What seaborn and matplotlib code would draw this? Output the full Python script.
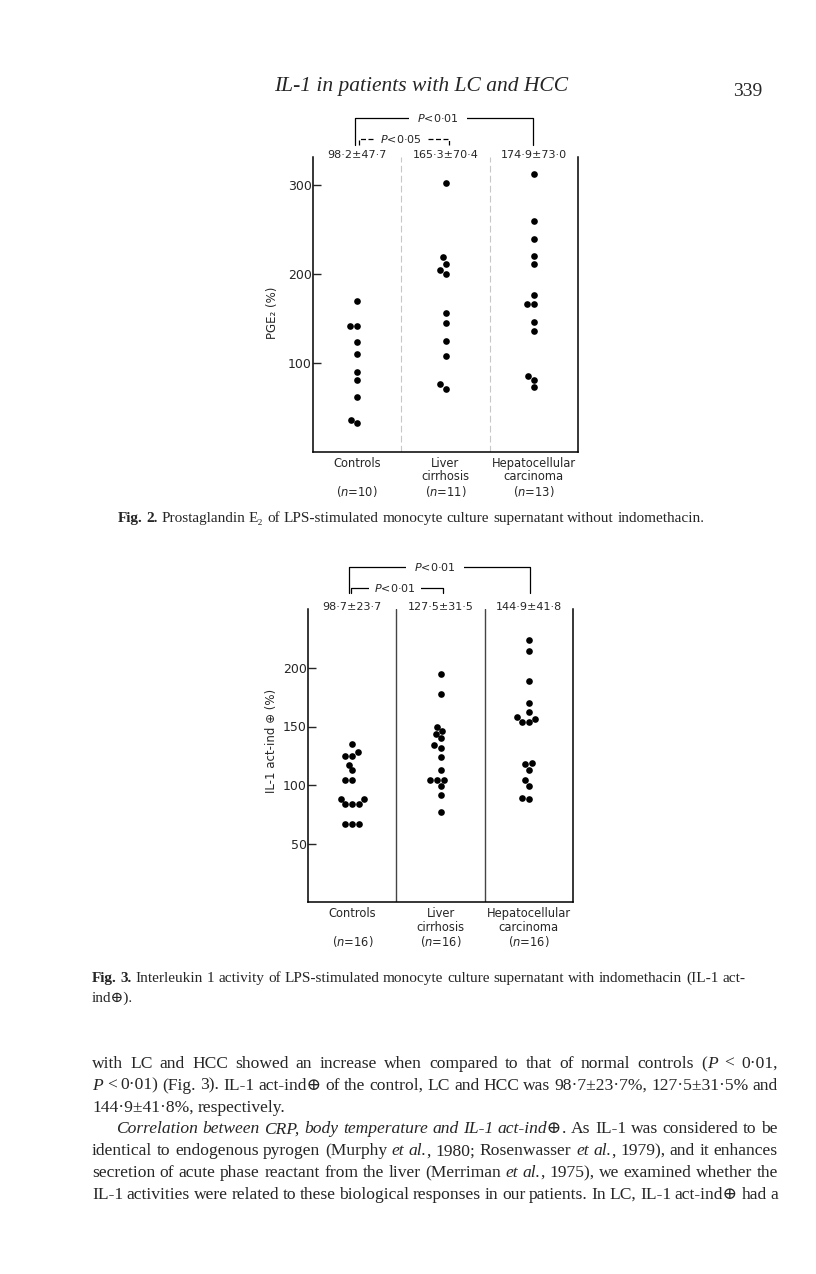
import matplotlib
matplotlib.use("Agg")
import matplotlib.pyplot as plt
import numpy as np
import pandas as pd
import seaborn as sns

# ── page size (px) ─────────────────────────────────────────────────────────
W, H = 816, 1274

# ── data ───────────────────────────────────────────────────────────────────
GROUPS = ["Controls", "Liver cirrhosis", "Hepatocellular carcinoma"]

# Fig. 2  PGE2 (%)
PGE2_CONTROLS = [170, 141.5, 141.5, 124, 110, 90, 81, 62, 36, 32]
PGE2_LC = [303, 219, 212, 205, 200, 156, 145, 124.5, 108, 76, 71]
PGE2_HCC = [313, 260, 240, 221, 211, 177, 166, 166, 146, 136, 85, 81, 73]
PGE2_STATS = ["98·2±47·7", "165·3±70·4", "174·9±73·0"]
PGE2_LABELS = ["Controls\n\n($n$=10)", "Liver\ncirrhosis\n($n$=11)",
               "Hepatocellular\ncarcinoma\n($n$=13)"]
PGE2_TICKS = [100, 200, 300]

# Fig. 3  IL-1 act-ind (+) (%)
IL1_CONTROLS = [135, 128, 124.5, 124.5, 117.5, 112.5, 104, 104,
                88.5, 88.5, 84, 84, 84, 66.5, 66.5, 66.5]
IL1_LC = [195, 178, 150, 146, 144, 140, 134, 132, 124, 113,
          104, 104, 104, 99, 91.5, 77]
IL1_HCC = [224, 214, 188.5, 170, 162.5, 158.5, 156, 154, 154,
           119, 118, 113, 104, 99, 89, 88]
IL1_STATS = ["98·7±23·7", "127·5±31·5", "144·9±41·8"]
IL1_LABELS = ["Controls\n\n($n$=16)", "Liver\ncirrhosis\n($n$=16)",
              "Hepatocellular\ncarcinoma\n($n$=16)"]
IL1_TICKS = [50, 100, 150, 200]

# ── page text ──────────────────────────────────────────────────────────────
# '_' toggles italic, '*' toggles bold
RUNNING_HEAD = "IL-1 in patients with LC and HCC"
PAGE_NO = "339"
CAPTION_2 = ("*Fig. 2.* Prostaglandin E₂ of LPS-stimulated monocyte culture "
             "supernatant without indomethacin.")
CAPTION_3 = ["*Fig. 3.* Interleukin 1 activity of LPS-stimulated monocyte culture "
             "supernatant with indomethacin (IL-1 act-",
             "ind⊕)."]
PARA_1 = ["with LC and HCC showed an increase when compared to that of normal controls (_P_ < 0·01,",
          "_P_ < 0·01) (Fig. 3). IL-1 act-ind⊕ of the control, LC and HCC was 98·7±23·7%, 127·5±31·5% and",
          "144·9±41·8%, respectively."]
PARA_2 = ["_Correlation between CRP, body temperature and IL-1 act-ind⊕_. As IL-1 was considered to be",
          "identical to endogenous pyrogen (Murphy _et al._, 1980; Rosenwasser _et al._, 1979), and it enhances",
          "secretion of acute phase reactant from the liver (Merriman _et al._, 1975), we examined whether the",
          "IL-1 activities were related to these biological responses in our patients. In LC, IL-1 act-ind⊕ had a"]

SERIF = ["Liberation Serif", "DejaVu Serif", "DejaVu Sans"]
SANS = ["DejaVu Sans"]

sns.set_style("white")
plt.rcParams["font.family"] = SANS
plt.rcParams["axes.linewidth"] = 1.1


def fx(x):
    return x / W


def fy(y):
    return 1 - y / H


def draw_panel(ax, series, ylim, yticks, ylabel, labels, stats, sep_kw):
    df = pd.DataFrame({
        "group": np.repeat(GROUPS, [len(s) for s in series]),
        "value": np.concatenate(series),
    })
    sns.swarmplot(data=df, x="group", y="value", order=GROUPS,
                  color="black", size=4.8, ax=ax)
    ax.set_xlim(-0.5, 2.5)
    ax.set_ylim(*ylim)
    ax.set_yticks(yticks)
    ax.set_xticks(range(3))
    ax.set_xticklabels(labels, fontsize=8.3, linespacing=1.05)
    ax.set_xlabel("")
    ax.set_ylabel(ylabel, fontsize=8.5)
    for sp in ("left", "right", "bottom"):
        ax.spines[sp].set_visible(True)
        ax.spines[sp].set_color("black")
    ax.spines["top"].set_visible(False)
    ax.tick_params(axis="y", direction="in", length=6, width=1, pad=1,
                   labelsize=9, left=True)
    ax.tick_params(axis="x", length=0, pad=3.5)
    for xs in (0.5, 1.5):
        ax.axvline(xs, **sep_kw)
    tr = ax.get_xaxis_transform()
    for i, s in enumerate(stats):
        ax.text(i, 1.008, s, transform=tr, ha="center", va="center",
                fontsize=8, zorder=5)


def bracket(ax, x0, x1, y, y_leg, tx, text, pad, ls="-"):
    tr = ax.get_xaxis_transform()
    ax.plot([x0, x0, x1, x1], [y_leg, y, y, y_leg], color="black", lw=0.9,
            ls=ls, transform=tr, clip_on=False)
    ax.text(tx, y, text, transform=tr, ha="center", va="center", fontsize=8,
            bbox=dict(boxstyle=f"square,pad={pad}", facecolor="white",
                      edgecolor="none"), zorder=4)


def parse_words(line):
    italic = bold = False
    words = []
    for raw in line.split(" "):
        segs, buf = [], ""
        for ch in raw:
            if ch in "_*":
                if buf:
                    segs.append((buf, italic, bold))
                    buf = ""
                if ch == "_":
                    italic = not italic
                else:
                    bold = not bold
            else:
                buf += ch
        if buf:
            segs.append((buf, italic, bold))
        words.append(segs)
    return words


def text_line(fig, rend, line, y, size, x0, x1=None, center=None):
    """Place one line of mixed roman/italic/bold words; justify if x1 given."""
    words = parse_words(line)
    while True:
        placed = []
        for segs in words:
            wa = []
            for s, it, bd in segs:
                t = fig.text(0, 0, s, fontsize=size, family=SERIF,
                             style="italic" if it else "normal",
                             weight="bold" if bd else "normal",
                             ha="left", va="baseline")
                wa.append((t, t.get_window_extent(rend).width))
            placed.append(wa)
        widths = [sum(w for _, w in wa) for wa in placed]
        space = size * 100 / 72 * 0.25
        if x1 is not None and len(placed) > 1:
            space = (x1 - x0 - sum(widths)) / (len(placed) - 1)
            if space < 2.5:
                # too tight: drop the artists and retry a touch smaller
                for wa in placed:
                    for t, _ in wa:
                        t.remove()
                size -= 0.1
                continue
        break
    if center is not None:
        x0 = center - (sum(widths) + space * (len(placed) - 1)) / 2
    x = x0
    for wa, ww in zip(placed, widths):
        xx = x
        for t, w in wa:
            t.set_position((fx(xx), fy(y)))
            xx += w
        x += ww + space


fig = plt.figure(figsize=(W / 100, H / 100), dpi=100)
fig.patch.set_facecolor("white")

# Fig. 2
ax2 = fig.add_axes([fx(313), fy(451.7), 265 / W, 294.7 / H])
draw_panel(ax2, [PGE2_CONTROLS, PGE2_LC, PGE2_HCC], (0, 332), PGE2_TICKS,
           "PGE₂ (%)", PGE2_LABELS, PGE2_STATS,
           dict(color="#c8c8c8", lw=0.8, ls=(0, (6, 3))))
ax2.yaxis.set_label_coords(-0.13, 0.47)
bracket(ax2, -0.02, 1.99, 1.133, 1.04, 0.915, "$P$<0·01", 0.75)
bracket(ax2, 0.02, 1.04, 1.061, 1.04, 0.49, "$P$<0·05", 0.45, ls=(0, (4, 2)))

# Fig. 3
ax3 = fig.add_axes([fx(308.3), fy(902.3), 264.4 / W, 293 / H])
draw_panel(ax3, [IL1_CONTROLS, IL1_LC, IL1_HCC], (0, 250), IL1_TICKS,
           "IL-1 act-ind ⊕ (%)", IL1_LABELS, IL1_STATS,
           dict(color="#444444", lw=1.0))
ax3.yaxis.set_label_coords(-0.115, 0.55)
bracket(ax3, -0.04, 2.01, 1.143, 1.055, 0.94, "$P$<0·01", 0.75)
bracket(ax3, -0.016, 1.025, 1.072, 1.055, 0.48, "$P$<0·01", 0.45)

# running head + page number
fig.text(fx(421), fy(86), RUNNING_HEAD, family=SERIF, style="italic",
         fontsize=15.5, ha="center", va="center")
fig.text(fx(762), fy(92), PAGE_NO, family=SERIF, fontsize=14,
         ha="right", va="center")

rend = fig.canvas.get_renderer()
LEFT, RIGHT = 92, 778

text_line(fig, rend, CAPTION_2, 522, 11, 0, center=411)
text_line(fig, rend, CAPTION_3[0], 982, 11, LEFT)
text_line(fig, rend, CAPTION_3[1], 1002, 11, LEFT)

LINE_H = 21.8
y = 1068
for i, line in enumerate(PARA_1):
    last = i == len(PARA_1) - 1
    text_line(fig, rend, line, y, 12.6, LEFT, None if last else RIGHT)
    y += LINE_H
for i, line in enumerate(PARA_2):
    x0 = LEFT + 24 if i == 0 else LEFT
    text_line(fig, rend, line, y, 12.6, x0, RIGHT)
    y += LINE_H

fig.savefig("out.png", dpi=100, facecolor="white")
